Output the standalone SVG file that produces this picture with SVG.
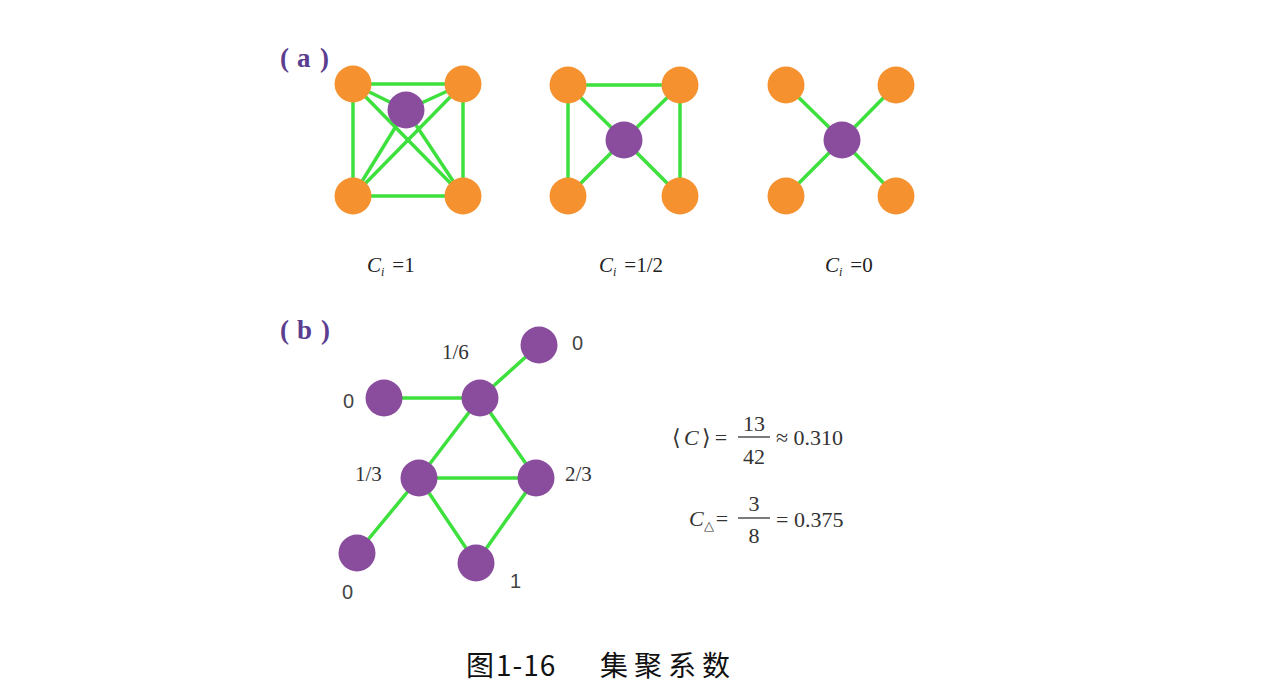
<svg xmlns="http://www.w3.org/2000/svg" width="1270" height="688" viewBox="0 0 1270 688">
<style>
.e{stroke:#3de03d;stroke-width:3.5;fill:none;stroke-linecap:round}
.o{fill:#f5922f}
.p{fill:#8a4d9e}
.lab{font-family:"Liberation Serif",serif;font-weight:bold;font-size:27px;fill:#5b3e8f}
.ci{font-family:"Liberation Serif",serif;font-size:21px;fill:#222}
.num{font-family:"Liberation Sans",sans-serif;font-size:20px;fill:#444}
.fr{font-family:"Liberation Serif",serif;font-size:21px;fill:#333}
.m{font-family:"Liberation Serif",serif;font-size:22px;fill:#333}
.cap{font-family:"Noto Sans CJK SC",sans-serif;font-size:28px;fill:#111}
</style>
<rect width="1270" height="688" fill="#fff"/>
<text class="lab" y="67"><tspan x="280">(</tspan><tspan x="297">a</tspan><tspan x="320">)</tspan></text>
<text class="lab" y="339"><tspan x="280">(</tspan><tspan x="297">b</tspan><tspan x="321">)</tspan></text>
<g id="connectors">
<line class="e" x1="353" y1="84" x2="463" y2="84"/>
<line class="e" x1="353" y1="84" x2="353" y2="196"/>
<line class="e" x1="463" y1="84" x2="463" y2="196"/>
<line class="e" x1="353" y1="196" x2="463" y2="196"/>
<line class="e" x1="353" y1="84" x2="463" y2="196"/>
<line class="e" x1="463" y1="84" x2="353" y2="196"/>
<line class="e" x1="353" y1="84" x2="406" y2="110"/>
<line class="e" x1="463" y1="84" x2="406" y2="110"/>
<line class="e" x1="353" y1="196" x2="406" y2="110"/>
<line class="e" x1="463" y1="196" x2="406" y2="110"/>
<line class="e" x1="568" y1="85" x2="680" y2="85"/>
<line class="e" x1="568" y1="85" x2="568" y2="196"/>
<line class="e" x1="680" y1="85" x2="680" y2="196"/>
<line class="e" x1="568" y1="85" x2="624" y2="140"/>
<line class="e" x1="680" y1="85" x2="624" y2="140"/>
<line class="e" x1="568" y1="196" x2="624" y2="140"/>
<line class="e" x1="680" y1="196" x2="624" y2="140"/>
<line class="e" x1="786" y1="85" x2="842" y2="140"/>
<line class="e" x1="896" y1="85" x2="842" y2="140"/>
<line class="e" x1="786" y1="196" x2="842" y2="140"/>
<line class="e" x1="896" y1="196" x2="842" y2="140"/>
<line class="e" x1="539" y1="345" x2="480" y2="398"/>
<line class="e" x1="384" y1="398" x2="480" y2="398"/>
<line class="e" x1="480" y1="398" x2="419" y2="478"/>
<line class="e" x1="480" y1="398" x2="536" y2="478"/>
<line class="e" x1="419" y1="478" x2="536" y2="478"/>
<line class="e" x1="419" y1="478" x2="357" y2="553"/>
<line class="e" x1="419" y1="478" x2="476" y2="563"/>
<line class="e" x1="536" y1="478" x2="476" y2="563"/>
</g>
<g id="a1">
<circle class="o" cx="353" cy="84" r="18.5"/>
<circle class="o" cx="463" cy="84" r="18.5"/>
<circle class="o" cx="353" cy="196" r="18.5"/>
<circle class="o" cx="463" cy="196" r="18.5"/>
<circle class="p" cx="406" cy="110" r="18.5"/>
</g>
<g id="a2">
<circle class="o" cx="568" cy="85" r="18.5"/>
<circle class="o" cx="680" cy="85" r="18.5"/>
<circle class="o" cx="568" cy="196" r="18.5"/>
<circle class="o" cx="680" cy="196" r="18.5"/>
<circle class="p" cx="624" cy="140" r="18.5"/>
</g>
<g id="a3">
<circle class="o" cx="786" cy="85" r="18.5"/>
<circle class="o" cx="896" cy="85" r="18.5"/>
<circle class="o" cx="786" cy="196" r="18.5"/>
<circle class="o" cx="896" cy="196" r="18.5"/>
<circle class="p" cx="842" cy="140" r="18.5"/>
</g>
<text class="ci" x="367" y="272"><tspan font-style="italic">C</tspan><tspan font-style="italic" font-size="12" dy="4">i</tspan><tspan dy="-4" dx="8">=1</tspan></text>
<text class="ci" x="599" y="272"><tspan font-style="italic">C</tspan><tspan font-style="italic" font-size="12" dy="4">i</tspan><tspan dy="-4" dx="8">=1/2</tspan></text>
<text class="ci" x="825" y="272"><tspan font-style="italic">C</tspan><tspan font-style="italic" font-size="12" dy="4">i</tspan><tspan dy="-4" dx="8">=0</tspan></text>
<g id="b-nodes">
<g id="n1"><circle class="p" cx="539" cy="345" r="18.5"/><text class="num" x="572" y="350">0</text></g>
<g id="n2"><circle class="p" cx="480" cy="398" r="18.5"/><text class="fr" x="442" y="359">1/6</text></g>
<g id="n3"><circle class="p" cx="384" cy="398" r="18.5"/><text class="num" x="343" y="408">0</text></g>
<g id="n4"><circle class="p" cx="419" cy="478" r="18.5"/><text class="fr" x="355" y="481">1/3</text></g>
<g id="n5"><circle class="p" cx="536" cy="478" r="18.5"/><text class="fr" x="565" y="481">2/3</text></g>
<g id="n6"><circle class="p" cx="357" cy="553" r="18.5"/><text class="num" x="342" y="599">0</text></g>
<g id="n7"><circle class="p" cx="476" cy="563" r="18.5"/><text class="num" x="510" y="588">1</text></g>
</g>
<g id="formulas">
<text class="m" x="672" y="445">⟨<tspan dx="3" font-style="italic">C</tspan><tspan dx="3">⟩</tspan><tspan dx="4">=</tspan></text>
<text class="m" x="754" y="431" text-anchor="middle">13</text>
<line x1="738" y1="437" x2="770" y2="437" stroke="#333" stroke-width="1.3"/>
<text class="m" x="754" y="464" text-anchor="middle">42</text>
<text class="m" x="776" y="445">≈ 0.310</text>
<text class="m" x="689" y="526"><tspan font-style="italic">C</tspan><tspan font-size="13" dy="4">△</tspan><tspan dy="-4" dx="2">=</tspan></text>
<text class="m" x="754" y="511" text-anchor="middle">3</text>
<line x1="738" y1="518" x2="770" y2="518" stroke="#333" stroke-width="1.3"/>
<text class="m" x="754" y="543" text-anchor="middle">8</text>
<text class="m" x="776" y="527">= 0.375</text>
</g>
<text class="cap" y="676"><tspan x="466">图</tspan><tspan x="496" letter-spacing="1">1-16</tspan><tspan x="600" letter-spacing="6">集聚系数</tspan></text>
</svg>
